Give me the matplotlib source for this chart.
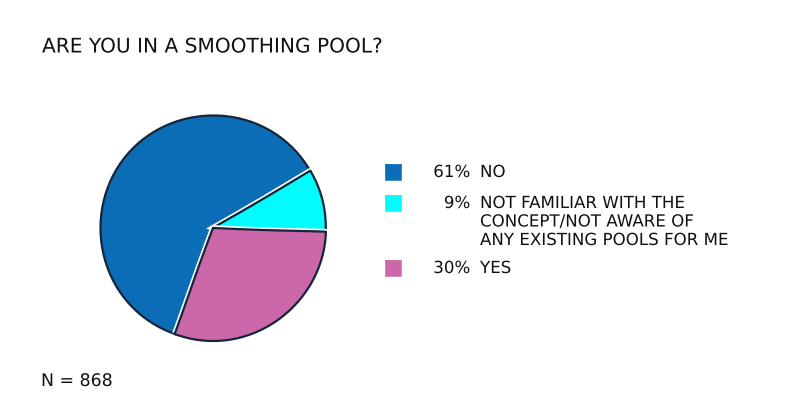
import matplotlib
matplotlib.use("Agg")
import matplotlib.pyplot as plt
from matplotlib.patches import Rectangle

title = "ARE YOU IN A SMOOTHING POOL?"
categories = ["NO", "NOT FAMILIAR WITH THE\nCONCEPT/NOT AWARE OF\nANY EXISTING POOLS FOR ME", "YES"]
values = [61, 9, 30]
colors = ["#0a6db5", "#00fcfc", "#cc67a9"]
n_label = "N = 868"

W, H = 800, 401
with plt.xkcd(scale=0.25, length=150, randomness=1):
    plt.rcParams['font.family'] = ['DejaVu Sans']
    fig = plt.figure(figsize=(W / 100, H / 100), dpi=100)
    fig.patch.set_facecolor("white")

    cx, cy, r = 213, 228, 115
    ax = fig.add_axes([(cx - r) / W, (H - cy - r) / H, 2 * r / W, 2 * r / H])
    ax.pie(values, colors=colors, startangle=250, counterclock=False,
           wedgeprops=dict(edgecolor="#15253a", linewidth=1.6))
    ax.set_xlim(-1.02, 1.02)
    ax.set_ylim(-1.02, 1.02)
    ax.set_aspect("equal")
    ax.axis("off")

    lax = fig.add_axes([0, 0, 1, 1])
    lax.set_xlim(0, W)
    lax.set_ylim(H, 0)
    lax.axis("off")

    lax.text(42, 47, title, fontsize=14.5, va="center", ha="left", color="#111111")
    lax.text(41, 381, n_label, fontsize=12.5, va="center", ha="left", color="#111111")

    row_y = [172, 203, 268]
    for y, lab, v, c in zip(row_y, categories, values, colors):
        lax.add_patch(Rectangle((385, y - 8.5), 17, 17, facecolor=c, edgecolor="none",
                                path_effects=[]))
        lax.text(470, y, f"{v}%", fontsize=12, ha="right", va="center", color="#111111")
        for i, line in enumerate(lab.split("\n")):
            lax.text(480, y + i * 18.5, line, fontsize=12, ha="left", va="center",
                     color="#111111")

    fig.savefig("out.png", dpi=100, facecolor="white")
